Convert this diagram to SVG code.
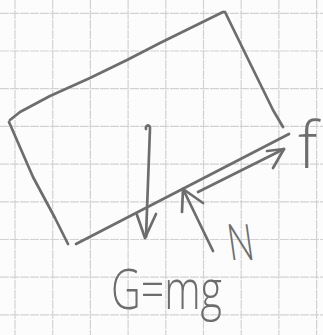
<svg xmlns="http://www.w3.org/2000/svg" width="323" height="335" viewBox="0 0 323 335">
<style>
.grid line{stroke:#d2d2d2;stroke-width:1.2;stroke-dasharray:9 1}
.ink{fill:none;stroke:#6d6d6d;stroke-width:2.7;stroke-linecap:round;stroke-linejoin:round}
.lbl{fill:#6d6d6d;font-family:"Open Sans","Liberation Sans",sans-serif;font-weight:300}
</style>
<rect width="323" height="335" fill="#fcfcfc"/>
<g class="grid">
<line x1="15" y1="0" x2="15" y2="335"/>
<line x1="52.7" y1="0" x2="52.7" y2="335"/>
<line x1="90.4" y1="0" x2="90.4" y2="335"/>
<line x1="128.1" y1="0" x2="128.1" y2="335"/>
<line x1="165.8" y1="0" x2="165.8" y2="335"/>
<line x1="203.5" y1="0" x2="203.5" y2="335"/>
<line x1="241.2" y1="0" x2="241.2" y2="335"/>
<line x1="278.9" y1="0" x2="278.9" y2="335"/>
<line x1="316.6" y1="0" x2="316.6" y2="335"/>
<line x1="0" y1="13.3" x2="323" y2="13.3"/>
<line x1="0" y1="51" x2="323" y2="51"/>
<line x1="0" y1="88.7" x2="323" y2="88.7"/>
<line x1="0" y1="126.4" x2="323" y2="126.4"/>
<line x1="0" y1="164.1" x2="323" y2="164.1"/>
<line x1="0" y1="201.8" x2="323" y2="201.8"/>
<line x1="0" y1="239.5" x2="323" y2="239.5"/>
<line x1="0" y1="277.2" x2="323" y2="277.2"/>
<line x1="0" y1="314.9" x2="323" y2="314.9"/>
</g>
<g id="block" class="ink">
<path d="M10,120 L20,112 L50,96 L90,78 L127,60 L160,43 L223,12"/>
<path d="M225,12 L247,57 L273,110 L283,127"/>
<path d="M9,122 L33,177 L55,218 L68,244"/>
<path d="M76,244 L289,134"/>
</g>
<g id="forces" class="ink">
<g id="gravity">
<path d="M146,129 C145,125 150,124 150,128 L146,237"/>
<path d="M137,215 L145,238 L156,214"/>
</g>
<g id="normal">
<path d="M213,251 L183,189"/>
<path d="M182,212 L183,189 L203,203"/>
</g>
<g id="friction">
<path d="M198,192 L284,149"/>
<path d="M267,151 L284,149 L273,168"/>
</g>
</g>
<g id="label-f"><text class="lbl" x="298" y="168" font-size="64">f</text></g>
<g id="label-N"><text class="lbl" font-size="50" x="0" y="0" textLength="26" lengthAdjust="spacingAndGlyphs" transform="translate(230,260) skewX(8)">N</text></g>
<g id="label-G"><text class="lbl" x="111" y="309" font-size="56" textLength="111" lengthAdjust="spacingAndGlyphs">G=mg</text></g>
</svg>
